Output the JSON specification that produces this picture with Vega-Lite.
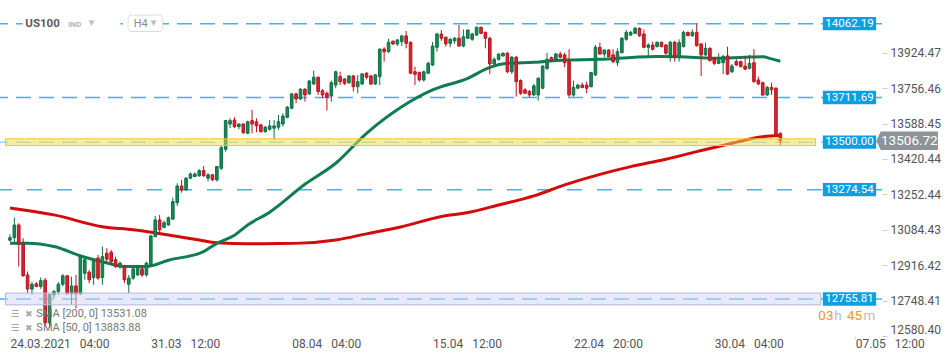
{
  "$schema": "https://vega.github.io/schema/vega-lite/v6.json",
  "width": 882,
  "height": 336,
  "autosize": {"type": "none"},
  "padding": {"left": 0, "top": 0, "right": 68, "bottom": 25},
  "background": "white",
  "config": {"view": {"stroke": null}, "font": "Roboto"},
  "datasets": {
    "levels": [{"v": 14062.19}, {"v": 13711.69}, {"v": 13500.0}, {"v": 13274.54}, {"v": 12755.81}],
    "candles": [
      {"i":1,"o":13035,"h":13063,"l":13028,"c":13047},{"i":2,"o":13047,"h":13142,"l":13021,"c":13107},{"i":3,"o":13107,"h":13115,"l":12910,"c":13016},{"i":4,"o":13016,"h":13044,"l":12862,"c":12866},{"i":5,"o":12870,"h":12886,"l":12784,"c":12803},{"i":6,"o":12803,"h":12836,"l":12776,"c":12826},{"i":7,"o":12828,"h":12836,"l":12812,"c":12815},{"i":8,"o":12815,"h":12858,"l":12804,"c":12843},{"i":9,"o":12845,"h":12855,"l":12625,"c":12643},{"i":10,"o":12643,"h":12785,"l":12619,"c":12776},
      {"i":11,"o":12776,"h":12799,"l":12760,"c":12791},{"i":12,"o":12791,"h":12836,"l":12776,"c":12826},{"i":13,"o":12826,"h":12874,"l":12815,"c":12866},{"i":14,"o":12866,"h":12870,"l":12776,"c":12780},{"i":15,"o":12780,"h":12862,"l":12728,"c":12818},{"i":16,"o":12818,"h":12870,"l":12712,"c":12780},{"i":17,"o":12780,"h":12965,"l":12776,"c":12957},{"i":18,"o":12878,"h":12957,"l":12847,"c":12942},{"i":19,"o":12883,"h":12894,"l":12831,"c":12847},{"i":20,"o":12858,"h":12942,"l":12823,"c":12937},
      {"i":21,"o":12950,"h":12965,"l":12847,"c":12855},{"i":22,"o":12858,"h":13005,"l":12823,"c":12957},{"i":23,"o":12973,"h":12997,"l":12933,"c":12945},{"i":24,"o":12978,"h":12989,"l":12918,"c":12933},{"i":25,"o":12942,"h":12957,"l":12902,"c":12910},{"i":26,"o":12910,"h":12933,"l":12899,"c":12926},{"i":27,"o":12910,"h":12918,"l":12831,"c":12847},{"i":28,"o":12826,"h":12870,"l":12784,"c":12855},{"i":29,"o":12855,"h":12905,"l":12847,"c":12899},{"i":30,"o":12870,"h":12918,"l":12867,"c":12905},
      {"i":31,"o":12899,"h":12908,"l":12861,"c":12870},{"i":32,"o":12870,"h":12933,"l":12862,"c":12926},{"i":33,"o":12918,"h":13060,"l":12910,"c":13055},{"i":34,"o":13052,"h":13150,"l":13049,"c":13131},{"i":35,"o":13131,"h":13155,"l":13071,"c":13084},{"i":36,"o":13096,"h":13128,"l":13092,"c":13118},{"i":37,"o":13107,"h":13147,"l":13104,"c":13142},{"i":38,"o":13135,"h":13237,"l":13131,"c":13218},{"i":39,"o":13213,"h":13305,"l":13198,"c":13292},{"i":40,"o":13292,"h":13321,"l":13261,"c":13273},
      {"i":41,"o":13273,"h":13334,"l":13270,"c":13329},{"i":42,"o":13329,"h":13356,"l":13324,"c":13349},{"i":43,"o":13337,"h":13356,"l":13334,"c":13349},{"i":44,"o":13340,"h":13372,"l":13337,"c":13365},{"i":45,"o":13365,"h":13387,"l":13337,"c":13340},{"i":46,"o":13329,"h":13353,"l":13313,"c":13345},{"i":47,"o":13345,"h":13349,"l":13316,"c":13321},{"i":48,"o":13321,"h":13387,"l":13313,"c":13384},{"i":49,"o":13376,"h":13482,"l":13368,"c":13474},{"i":50,"o":13466,"h":13605,"l":13455,"c":13602},
      {"i":51,"o":13586,"h":13613,"l":13566,"c":13602},{"i":52,"o":13605,"h":13618,"l":13566,"c":13574},{"i":53,"o":13574,"h":13590,"l":13561,"c":13586},{"i":54,"o":13586,"h":13590,"l":13539,"c":13545},{"i":55,"o":13542,"h":13602,"l":13539,"c":13597},{"i":56,"o":13602,"h":13653,"l":13542,"c":13586},{"i":57,"o":13597,"h":13613,"l":13547,"c":13577},{"i":58,"o":13582,"h":13586,"l":13545,"c":13550},{"i":59,"o":13550,"h":13577,"l":13545,"c":13571},{"i":60,"o":13561,"h":13605,"l":13555,"c":13577},
      {"i":61,"o":13566,"h":13605,"l":13510,"c":13577},{"i":62,"o":13571,"h":13629,"l":13558,"c":13597},{"i":63,"o":13586,"h":13637,"l":13574,"c":13624},{"i":64,"o":13618,"h":13672,"l":13613,"c":13666},{"i":65,"o":13661,"h":13732,"l":13656,"c":13729},{"i":66,"o":13729,"h":13735,"l":13685,"c":13705},{"i":67,"o":13705,"h":13756,"l":13700,"c":13751},{"i":68,"o":13751,"h":13756,"l":13692,"c":13724},{"i":69,"o":13729,"h":13795,"l":13724,"c":13790},{"i":70,"o":13776,"h":13839,"l":13771,"c":13808},
      {"i":71,"o":13808,"h":13811,"l":13724,"c":13740},{"i":72,"o":13744,"h":13751,"l":13708,"c":13724},{"i":73,"o":13732,"h":13740,"l":13650,"c":13713},{"i":74,"o":13719,"h":13792,"l":13692,"c":13782},{"i":75,"o":13771,"h":13839,"l":13756,"c":13834},{"i":76,"o":13811,"h":13834,"l":13771,"c":13787},{"i":77,"o":13800,"h":13803,"l":13771,"c":13779},{"i":78,"o":13782,"h":13819,"l":13776,"c":13814},{"i":79,"o":13814,"h":13819,"l":13740,"c":13763},{"i":80,"o":13763,"h":13819,"l":13732,"c":13787},
      {"i":81,"o":13776,"h":13827,"l":13771,"c":13824},{"i":82,"o":13827,"h":13832,"l":13798,"c":13808},{"i":83,"o":13814,"h":13819,"l":13771,"c":13776},{"i":84,"o":13776,"h":13823,"l":13771,"c":13819},{"i":85,"o":13811,"h":13945,"l":13771,"c":13941},{"i":86,"o":13942,"h":13950,"l":13882,"c":13929},{"i":87,"o":13929,"h":13990,"l":13924,"c":13974},{"i":88,"o":13979,"h":13982,"l":13961,"c":13966},{"i":89,"o":13966,"h":13988,"l":13956,"c":13985},{"i":90,"o":13977,"h":14008,"l":13956,"c":14004},
      {"i":91,"o":14004,"h":14027,"l":13945,"c":13969},{"i":92,"o":13974,"h":13977,"l":13823,"c":13827},{"i":93,"o":13834,"h":13858,"l":13771,"c":13822},{"i":94,"o":13831,"h":13834,"l":13787,"c":13795},{"i":95,"o":13795,"h":13839,"l":13787,"c":13834},{"i":96,"o":13827,"h":13882,"l":13823,"c":13874},{"i":97,"o":13866,"h":13975,"l":13861,"c":13956},{"i":98,"o":13950,"h":14019,"l":13929,"c":14013},{"i":99,"o":14013,"h":14032,"l":13981,"c":13993},{"i":100,"o":13998,"h":14000,"l":13953,"c":13966},
      {"i":101,"o":13969,"h":13993,"l":13950,"c":13988},{"i":102,"o":13981,"h":13998,"l":13966,"c":13993},{"i":103,"o":13993,"h":14056,"l":13953,"c":13956},{"i":104,"o":13956,"h":14035,"l":13950,"c":14000},{"i":105,"o":13993,"h":14035,"l":13990,"c":14032},{"i":106,"o":13988,"h":14019,"l":13981,"c":14013},{"i":107,"o":14008,"h":14048,"l":14004,"c":14045},{"i":108,"o":14045,"h":14048,"l":14013,"c":14016},{"i":109,"o":14021,"h":14024,"l":13945,"c":13993},{"i":110,"o":13993,"h":14000,"l":13823,"c":13871},
      {"i":111,"o":13871,"h":13903,"l":13866,"c":13893},{"i":112,"o":13893,"h":13922,"l":13887,"c":13918},{"i":113,"o":13909,"h":13926,"l":13906,"c":13922},{"i":114,"o":13922,"h":13929,"l":13827,"c":13834},{"i":115,"o":13834,"h":13909,"l":13823,"c":13903},{"i":116,"o":13903,"h":13909,"l":13716,"c":13787},{"i":117,"o":13792,"h":13798,"l":13724,"c":13732},{"i":118,"o":13748,"h":13756,"l":13729,"c":13732},{"i":119,"o":13740,"h":13748,"l":13713,"c":13724},{"i":120,"o":13724,"h":13776,"l":13719,"c":13767},
      {"i":121,"o":13724,"h":13808,"l":13697,"c":13803},{"i":122,"o":13756,"h":13866,"l":13751,"c":13861},{"i":123,"o":13850,"h":13924,"l":13842,"c":13893},{"i":124,"o":13901,"h":13906,"l":13882,"c":13887},{"i":125,"o":13893,"h":13924,"l":13887,"c":13918},{"i":126,"o":13918,"h":13929,"l":13898,"c":13903},{"i":127,"o":13914,"h":13924,"l":13855,"c":13877},{"i":128,"o":13882,"h":13941,"l":13716,"c":13724},{"i":129,"o":13724,"h":13792,"l":13716,"c":13760},{"i":130,"o":13756,"h":13776,"l":13751,"c":13771},
      {"i":131,"o":13771,"h":13782,"l":13756,"c":13759},{"i":132,"o":13771,"h":13787,"l":13732,"c":13756},{"i":133,"o":13763,"h":13834,"l":13760,"c":13830},{"i":134,"o":13819,"h":13961,"l":13814,"c":13950},{"i":135,"o":13950,"h":13972,"l":13914,"c":13918},{"i":136,"o":13918,"h":13941,"l":13903,"c":13937},{"i":137,"o":13937,"h":13941,"l":13903,"c":13906},{"i":138,"o":13914,"h":13941,"l":13874,"c":13882},{"i":139,"o":13877,"h":13945,"l":13861,"c":13929},{"i":140,"o":13924,"h":13998,"l":13922,"c":13993},
      {"i":141,"o":13988,"h":14032,"l":13981,"c":14021},{"i":142,"o":14008,"h":14027,"l":14004,"c":14021},{"i":143,"o":14016,"h":14048,"l":14013,"c":14040},{"i":144,"o":14040,"h":14045,"l":14000,"c":14004},{"i":145,"o":14013,"h":14035,"l":13945,"c":13950},{"i":146,"o":13950,"h":13969,"l":13909,"c":13961},{"i":147,"o":13961,"h":13977,"l":13934,"c":13941},{"i":148,"o":13953,"h":13977,"l":13950,"c":13974},{"i":149,"o":13974,"h":13977,"l":13950,"c":13953},{"i":150,"o":13961,"h":13966,"l":13914,"c":13922},
      {"i":151,"o":13909,"h":13981,"l":13882,"c":13974},{"i":152,"o":13974,"h":13981,"l":13882,"c":13903},{"i":153,"o":13903,"h":13988,"l":13882,"c":13972},{"i":154,"o":13953,"h":14029,"l":13950,"c":14021},{"i":155,"o":14021,"h":14024,"l":14004,"c":14005},{"i":156,"o":14005,"h":14035,"l":14000,"c":14021},{"i":157,"o":14021,"h":14061,"l":13953,"c":13958},{"i":158,"o":13966,"h":13969,"l":13814,"c":13914},{"i":159,"o":13914,"h":13972,"l":13909,"c":13945},{"i":160,"o":13945,"h":13950,"l":13882,"c":13887},
      {"i":161,"o":13898,"h":13903,"l":13866,"c":13874},{"i":162,"o":13874,"h":13922,"l":13870,"c":13887},{"i":163,"o":13877,"h":13914,"l":13823,"c":13906},{"i":164,"o":13909,"h":13953,"l":13819,"c":13823},{"i":165,"o":13834,"h":13871,"l":13827,"c":13861},{"i":166,"o":13882,"h":13893,"l":13861,"c":13866},{"i":167,"o":13882,"h":13887,"l":13855,"c":13858},{"i":168,"o":13861,"h":13909,"l":13842,"c":13846},{"i":169,"o":13850,"h":13914,"l":13846,"c":13874},{"i":170,"o":13877,"h":13941,"l":13782,"c":13787},
      {"i":171,"o":13795,"h":13811,"l":13771,"c":13776},{"i":172,"o":13782,"h":13787,"l":13719,"c":13724},{"i":173,"o":13724,"h":13767,"l":13719,"c":13760},{"i":174,"o":13760,"h":13782,"l":13724,"c":13748},{"i":175,"o":13756,"h":13760,"l":13530,"c":13534},{"i":176,"o":13542,"h":13545,"l":13487,"c":13506.72}
    ],
    "sma": [
      {"i":1,"s":"SMA 200","v":13188},{"i":11,"s":"SMA 200","v":13155},{"i":22,"s":"SMA 200","v":13099},{"i":29,"s":"SMA 200","v":13084},{"i":37,"s":"SMA 200","v":13060},{"i":44,"s":"SMA 200","v":13036},{"i":48,"s":"SMA 200","v":13023},{"i":55,"s":"SMA 200","v":13018},{"i":62,"s":"SMA 200","v":13019},{"i":67,"s":"SMA 200","v":13021},{"i":75,"s":"SMA 200","v":13036},{"i":82,"s":"SMA 200","v":13065},{"i":90,"s":"SMA 200","v":13099},{"i":99,"s":"SMA 200","v":13147},{"i":105,"s":"SMA 200","v":13166},{"i":112,"s":"SMA 200","v":13202},{"i":120,"s":"SMA 200","v":13245},{"i":127,"s":"SMA 200","v":13297},{"i":135,"s":"SMA 200","v":13347},{"i":142,"s":"SMA 200","v":13384},{"i":150,"s":"SMA 200","v":13419},{"i":157,"s":"SMA 200","v":13455},{"i":165,"s":"SMA 200","v":13495},{"i":172,"s":"SMA 200","v":13526},{"i":176,"s":"SMA 200","v":13531.08},
      {"i":1,"s":"SMA 50","v":13021},{"i":5,"s":"SMA 50","v":13021},{"i":11,"s":"SMA 50","v":13005},{"i":18,"s":"SMA 50","v":12954},{"i":22,"s":"SMA 50","v":12933},{"i":27,"s":"SMA 50","v":12910},{"i":32,"s":"SMA 50","v":12910},{"i":37,"s":"SMA 50","v":12940},{"i":45,"s":"SMA 50","v":12981},{"i":48,"s":"SMA 50","v":13020},{"i":52,"s":"SMA 50","v":13058},{"i":55,"s":"SMA 50","v":13107},{"i":60,"s":"SMA 50","v":13168},{"i":68,"s":"SMA 50","v":13300},{"i":75,"s":"SMA 50","v":13400},{"i":82,"s":"SMA 50","v":13542},{"i":90,"s":"SMA 50","v":13668},{"i":97,"s":"SMA 50","v":13748},{"i":105,"s":"SMA 50","v":13803},{"i":110,"s":"SMA 50","v":13855},{"i":114,"s":"SMA 50","v":13874},{"i":120,"s":"SMA 50","v":13879},{"i":127,"s":"SMA 50","v":13890},{"i":135,"s":"SMA 50","v":13893},{"i":143,"s":"SMA 50","v":13903},{"i":148,"s":"SMA 50","v":13906},{"i":153,"s":"SMA 50","v":13905},{"i":161,"s":"SMA 50","v":13898},{"i":168,"s":"SMA 50","v":13903},{"i":172,"s":"SMA 50","v":13905},{"i":174,"s":"SMA 50","v":13895},{"i":176,"s":"SMA 50","v":13883.88}
    ]
  },
  "layer": [
    {
      "data": {"name": "levels"},
      "mark": {"type": "rule", "strokeWidth": 1.5, "color": "#3fb4ee"},
      "encoding": {
        "y": {
          "field": "v", "type": "quantitative",
          "scale": {"domain": [12580.4, 14174.4], "nice": false, "zero": false},
          "axis": {
            "orient": "right", "title": null, "grid": false, "domain": false,
            "values": [12580.40, 12748.41, 12916.42, 13084.43, 13252.44, 13420.44, 13588.45, 13756.46, 13924.47],
            "format": ".2f", "tickSize": 5, "tickColor": "#cccccc", "labelPadding": 3,
            "labelFont": "Roboto", "labelFontSize": 12, "labelColor": "#555555", "labelFlush": true, "labelOverlap": false
          }
        },
        "strokeDash": {"condition": {"test": "datum.v == 13274.54", "value": [15, 15]}, "value": [15, 8]},
        "opacity": {"condition": {"test": "datum.v == 13500", "value": 0.55}, "value": 1}
      }
    },
    {
      "data": {"name": "sma"},
      "mark": {"type": "line", "strokeWidth": 3, "interpolate": "monotone"},
      "encoding": {
        "x": {"field": "i", "type": "quantitative"},
        "y": {"field": "v", "type": "quantitative"},
        "color": {"field": "s", "type": "nominal", "scale": {"domain": ["SMA 200", "SMA 50"], "range": ["#d10c0c", "#0f7d50"]}, "legend": null}
      }
    },
    {
      "data": {"name": "candles"},
      "mark": {"type": "rule", "strokeWidth": 1},
      "encoding": {
        "x": {
          "field": "i", "type": "quantitative",
          "scale": {"domain": [-0.123, 197.95], "nice": false, "zero": false},
          "axis": {
            "title": null, "grid": false, "domain": false,
            "values": [1, 33, 65, 97, 129, 161, 193],
            "labelExpr": "datum.value == 1 ? '24.03.2021\u00a0\u00a0\u00a004:00' : datum.value == 33 ? '31.03\u00a0\u00a0\u00a012:00' : datum.value == 65 ? '08.04\u00a0\u00a0\u00a004:00' : datum.value == 97 ? '15.04\u00a0\u00a0\u00a012:00' : datum.value == 129 ? '22.04\u00a0\u00a0\u00a020:00' : datum.value == 161 ? '30.04\u00a0\u00a0\u00a004:00' : '07.05\u00a0\u00a0\u00a012:00'",
            "labelAlign": "left", "labelBaseline": "top", "tickSize": 3, "tickColor": "#d8d8d8", "labelPadding": -1,
            "labelFont": "Roboto", "labelFontSize": 12, "labelColor": "#555555", "labelFlush": false, "labelOverlap": false
          }
        },
        "y": {"field": "l", "type": "quantitative"},
        "y2": {"field": "h"},
        "color": {"condition": {"test": "datum.c >= datum.o", "value": "#0f6e44"}, "value": "#b8141f"}
      }
    },
    {
      "data": {"name": "candles"},
      "mark": {"type": "bar", "width": 2.6, "strokeWidth": 1},
      "encoding": {
        "x": {"field": "i", "type": "quantitative"},
        "y": {"field": "o", "type": "quantitative"},
        "y2": {"field": "c"},
        "fill": {"condition": {"test": "datum.c >= datum.o", "value": "#168a57"}, "value": "#da2330"},
        "stroke": {"condition": {"test": "datum.c >= datum.o", "value": "#0f6e44"}, "value": "#b8141f"}
      }
    },
    {
      "data": {"values": [{"lo": 13484, "hi": 13516}]},
      "mark": {"type": "rect", "fill": "#fbd54a", "fillOpacity": 0.5, "stroke": "#f3c534", "strokeWidth": 1},
      "encoding": {
        "x": {"datum": 0, "type": "quantitative"},
        "x2": {"datum": 184.0},
        "y": {"field": "lo", "type": "quantitative"},
        "y2": {"field": "hi"}
      }
    },
    {
      "data": {"values": [{"lo": 12728, "hi": 12784}]},
      "mark": {"type": "rect", "fill": "#d3d6f0", "fillOpacity": 0.5, "stroke": "#b3b8df", "strokeWidth": 1},
      "encoding": {
        "x": {"datum": 0, "type": "quantitative"},
        "x2": {"datum": 185.2},
        "y": {"field": "lo", "type": "quantitative"},
        "y2": {"field": "hi"}
      }
    },
    {
      "data": {"name": "levels"},
      "mark": {"type": "point", "shape": "M-1,-0.25L1,-0.25L1,0.25L-1,0.25Z", "size": 2841, "filled": true, "fill": "#0d9fe6", "opacity": 1, "strokeWidth": 0},
      "encoding": {
        "x": {"datum": 191.7, "type": "quantitative"},
        "y": {"field": "v", "type": "quantitative"}
      }
    },
    {
      "data": {"name": "levels"},
      "mark": {"type": "text", "color": "white", "font": "Roboto", "fontSize": 11.5, "align": "center", "baseline": "middle"},
      "encoding": {
        "x": {"datum": 191.7, "type": "quantitative"},
        "y": {"field": "v", "type": "quantitative"},
        "text": {"field": "v", "type": "quantitative", "format": ".2f"}
      }
    },
    {
      "data": {"values": [{"v": 13506.72}]},
      "mark": {"type": "point", "shape": "M-1,0L-0.86,-0.3L1,-0.3L1,0.3L-0.86,0.3Z", "size": 3795, "filled": true, "fill": "#8c9399", "opacity": 1, "strokeWidth": 0},
      "encoding": {
        "x": {"datum": 204.8, "type": "quantitative"},
        "y": {"field": "v", "type": "quantitative"}
      }
    },
    {
      "data": {"values": [{"v": 13506.72}]},
      "mark": {"type": "text", "color": "white", "font": "Roboto", "fontSize": 13.5, "align": "center", "baseline": "middle"},
      "encoding": {
        "x": {"datum": 205.3, "type": "quantitative"},
        "y": {"field": "v", "type": "quantitative"},
        "text": {"field": "v", "type": "quantitative", "format": ".2f"}
      }
    },
    {
      "data": {"values": [{}]},
      "mark": {"type": "rect", "fill": "white"},
      "encoding": {
        "x": {"datum": 3.9, "type": "quantitative"}, "x2": {"datum": 26.1},
        "y": {"datum": 14094, "type": "quantitative"}, "y2": {"datum": 14028}
      }
    },
    {
      "data": {"values": [{}]},
      "mark": {"type": "rect", "fill": "white", "stroke": "#dddddd", "strokeWidth": 1, "cornerRadius": 3},
      "encoding": {
        "x": {"datum": 27.84, "type": "quantitative"}, "x2": {"datum": 35.7},
        "y": {"datum": 14103, "type": "quantitative"}, "y2": {"datum": 14025}
      }
    },
    {
      "data": {"values": [{}]},
      "mark": {"type": "text", "text": "US100", "font": "Roboto", "fontSize": 11.5, "fontWeight": "bold", "color": "#5a5a5a", "align": "left", "baseline": "middle"},
      "encoding": {"x": {"datum": 4.5, "type": "quantitative"}, "y": {"datum": 14061, "type": "quantitative"}}
    },
    {
      "data": {"values": [{}]},
      "mark": {"type": "text", "text": "IND", "font": "Roboto", "fontSize": 8, "fontWeight": "bold", "color": "#b5b5b5", "align": "left", "baseline": "middle"},
      "encoding": {"x": {"datum": 14.25, "type": "quantitative"}, "y": {"datum": 14058, "type": "quantitative"}}
    },
    {
      "data": {"values": [{}]},
      "mark": {"type": "text", "text": "▾", "font": "DejaVu Sans", "fontSize": 11, "color": "#bdbdbd", "align": "left", "baseline": "middle"},
      "encoding": {"x": {"datum": 18.9, "type": "quantitative"}, "y": {"datum": 14063, "type": "quantitative"}}
    },
    {
      "data": {"values": [{}]},
      "mark": {"type": "text", "text": "H4", "font": "Roboto", "fontSize": 11, "color": "#8a8a8a", "align": "left", "baseline": "middle"},
      "encoding": {"x": {"datum": 29.1, "type": "quantitative"}, "y": {"datum": 14061, "type": "quantitative"}}
    },
    {
      "data": {"values": [{}]},
      "mark": {"type": "text", "text": "▾", "font": "DejaVu Sans", "fontSize": 11, "color": "#bdbdbd", "align": "left", "baseline": "middle"},
      "encoding": {"x": {"datum": 33.0, "type": "quantitative"}, "y": {"datum": 14063, "type": "quantitative"}}
    },
    {
      "data": {"values": [{"t": "SMA [200, 0] 13531.08", "v": 12683}, {"t": "SMA [50, 0] 13883.88", "v": 12620}]},
      "mark": {"type": "text", "font": "Roboto", "fontSize": 11, "color": "#777777", "align": "left", "baseline": "middle"},
      "encoding": {"x": {"datum": 7.0, "type": "quantitative"}, "y": {"field": "v", "type": "quantitative"}, "text": {"field": "t"}}
    },
    {
      "data": {"values": [{"v": 12683}, {"v": 12620}]},
      "mark": {"type": "text", "text": "☰", "font": "DejaVu Sans", "fontSize": 10, "color": "#a8a8a8", "align": "left", "baseline": "middle"},
      "encoding": {"x": {"datum": 1.2, "type": "quantitative"}, "y": {"field": "v", "type": "quantitative"}}
    },
    {
      "data": {"values": [{"v": 12683}, {"v": 12620}]},
      "mark": {"type": "text", "text": "✖", "font": "DejaVu Sans", "fontSize": 9, "color": "#a8a8a8", "align": "left", "baseline": "middle"},
      "encoding": {"x": {"datum": 4.4, "type": "quantitative"}, "y": {"field": "v", "type": "quantitative"}}
    },
    {
      "data": {"values": [{}]},
      "mark": {"type": "text", "text": "03", "font": "Roboto", "fontSize": 13.5, "color": "#f7931e", "align": "left", "baseline": "middle"},
      "encoding": {"x": {"datum": 184.63, "type": "quantitative"}, "y": {"datum": 12675, "type": "quantitative"}}
    },
    {
      "data": {"values": [{}]},
      "mark": {"type": "text", "text": "h", "font": "Roboto", "fontSize": 13.5, "color": "#bbbbbb", "align": "left", "baseline": "middle"},
      "encoding": {"x": {"datum": 188.22, "type": "quantitative"}, "y": {"datum": 12675, "type": "quantitative"}}
    },
    {
      "data": {"values": [{}]},
      "mark": {"type": "text", "text": "45", "font": "Roboto", "fontSize": 13.5, "color": "#f7931e", "align": "left", "baseline": "middle"},
      "encoding": {"x": {"datum": 191.14, "type": "quantitative"}, "y": {"datum": 12675, "type": "quantitative"}}
    },
    {
      "data": {"values": [{}]},
      "mark": {"type": "text", "text": "m", "font": "Roboto", "fontSize": 13.5, "color": "#bbbbbb", "align": "left", "baseline": "middle"},
      "encoding": {"x": {"datum": 194.87, "type": "quantitative"}, "y": {"datum": 12675, "type": "quantitative"}}
    }
  ]
}
